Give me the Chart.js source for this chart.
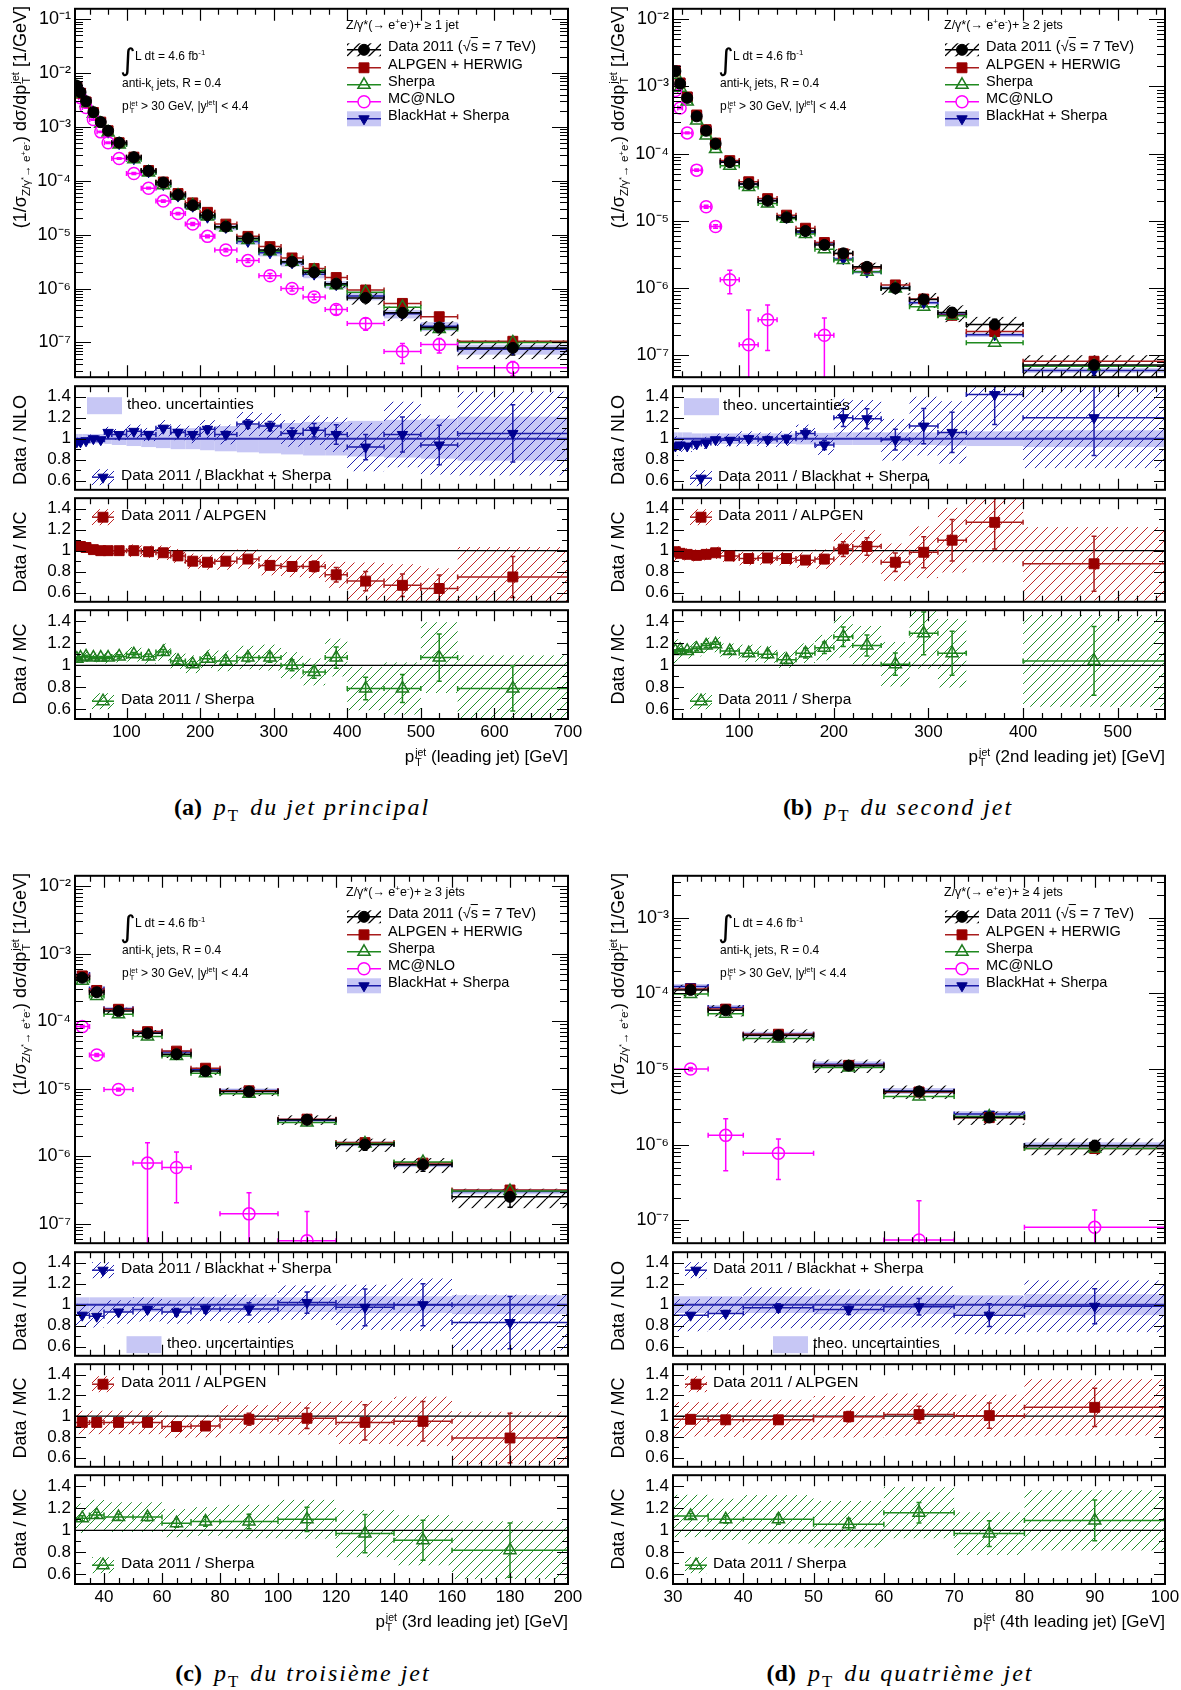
<!DOCTYPE html>
<html>
<head>
<meta charset="utf-8">
<title>pT des jets - Z/gamma* + jets</title>
<script src="https://cdn.jsdelivr.net/npm/chart.js@4.4.1/dist/chart.umd.min.js"></script>
<style>
  html,body{margin:0;padding:0;background:#fff}
  body{position:relative;width:1181px;height:1690px;overflow:hidden;font-family:"Liberation Sans",Arial,Helvetica,sans-serif;color:#000}
  canvas{position:absolute}
  .t{position:absolute;white-space:nowrap;line-height:1.1}
  .ss{display:inline-block;vertical-align:-0.4em;font-size:0.62em;line-height:0.95;text-align:left;margin-left:1px}
  .ss span{display:block}
  sup,sub{font-size:0.65em;line-height:0}
  .cap{font-family:"Liberation Serif","Times New Roman",serif}
  .cap i{letter-spacing:2px}
</style>
</head>
<body>
<script>
// ---------- (a) leading jet ----------
const edgesA = [30,35,40,50,60,70,80,100,120,140,160,180,200,220,250,280,310,340,370,400,450,500,550,700];
const dataA = [5.8e-3,4.4e-3,3.0e-3,1.88e-3,1.23e-3,8.5e-4,5.1e-4,2.75e-4,1.53e-4,9.3e-5,5.5e-5,3.5e-5,2.3e-5,1.41e-5,8.6e-6,5.2e-6,3.15e-6,2.0e-6,1.23e-6,6.7e-7,3.55e-7,1.9e-7,7.9e-8];
const statA = [0.01,0.01,0.01,0.01,0.01,0.01,0.015,0.015,0.02,0.02,0.025,0.025,0.03,0.03,0.035,0.04,0.05,0.06,0.09,0.13,0.16,0.2,0.26];
const sysA = [0.04,0.04,0.04,0.04,0.04,0.05,0.05,0.06,0.06,0.07,0.07,0.08,0.08,0.09,0.1,0.11,0.12,0.13,0.16,0.25,0.3,0.3,0.38];
const alpA = [5.58e-3,4.23e-3,2.91e-3,1.86e-3,1.23e-3,8.5e-4,5.1e-4,2.75e-4,1.55e-4,9.5e-5,5.8e-5,3.9e-5,2.6e-5,1.57e-5,9.3e-6,6.0e-6,3.7e-6,2.35e-6,1.6e-6,9.4e-7,5.3e-7,3.0e-7,1.05e-7];
const shpA = [5.47e-3,4.11e-3,2.78e-3,1.76e-3,1.15e-3,7.9e-4,4.7e-4,2.5e-4,1.42e-4,8.3e-5,5.3e-5,3.47e-5,2.17e-5,1.36e-5,8.0e-6,4.9e-6,3.15e-6,2.13e-6,1.15e-6,8.5e-7,4.5e-7,1.78e-7,1.0e-7];
const bhA = [5.98e-3,4.54e-3,3.06e-3,1.88e-3,1.24e-3,8.0e-4,4.9e-4,2.57e-4,1.47e-4,8.5e-5,5.2e-5,3.37e-5,2.11e-5,1.36e-5,7.5e-6,4.6e-6,3.0e-6,1.85e-6,1.18e-6,7.3e-7,3.4e-7,2.0e-7,7.5e-8];
const theoA = [0.045,0.045,0.045,0.045,0.045,0.05,0.06,0.07,0.08,0.09,0.1,0.1,0.11,0.12,0.13,0.14,0.15,0.16,0.16,0.17,0.18,0.19,0.21];
const mcnA = [5.0e-3,3.5e-3,2.3e-3,1.37e-3,8.1e-4,5.1e-4,2.6e-4,1.37e-4,7.3e-5,4.2e-5,2.47e-5,1.58e-5,9.3e-6,5.2e-6,3.3e-6,1.73e-6,1.0e-6,7.0e-7,4.1e-7,2.24e-7,6.8e-8,9.1e-8,3.4e-8];
const mcnErrA = [0.03,0.03,0.03,0.03,0.03,0.03,0.03,0.04,0.04,0.05,0.05,0.06,0.06,0.07,0.08,0.1,0.1,0.12,0.2,0.25,0.4,0.3,0.3];
const rNloA = [0.97,0.97,0.98,1.0,0.99,1.06,1.04,1.07,1.04,1.10,1.06,1.04,1.09,1.04,1.14,1.12,1.05,1.08,1.04,0.92,1.04,0.94,1.05];
const rAlpA = [1.04,1.04,1.03,1.01,1.0,1.0,1.0,1.0,0.99,0.98,0.95,0.90,0.89,0.90,0.92,0.86,0.85,0.85,0.77,0.71,0.67,0.64,0.75];
const rShpA = [1.06,1.07,1.08,1.07,1.07,1.07,1.08,1.10,1.08,1.12,1.04,1.01,1.06,1.04,1.07,1.07,1.0,0.94,1.07,0.79,0.79,1.07,0.79];

// ---------- (b) 2nd leading jet ----------
const edgesB = [30,35,40,50,60,70,80,100,120,140,160,180,200,220,250,280,310,340,400,550];
const dataB = [1.69e-3,1.1e-3,6.76e-4,3.6e-4,2.2e-4,1.41e-4,7.5e-5,3.55e-5,2.0e-5,1.13e-5,7.1e-6,4.4e-6,3.3e-6,2.08e-6,1.0e-6,6.8e-7,4.35e-7,2.88e-7,7.2e-8];
const statB = [0.01,0.01,0.01,0.015,0.015,0.02,0.02,0.025,0.03,0.035,0.04,0.045,0.07,0.08,0.1,0.15,0.18,0.2,0.3];
const sysB = [0.1,0.07,0.06,0.06,0.06,0.06,0.06,0.07,0.07,0.07,0.08,0.1,0.15,0.15,0.2,0.25,0.28,0.3,0.4];
const alpB = [1.71e-3,1.13e-3,7.0e-4,3.77e-4,2.28e-4,1.44e-4,7.9e-5,3.83e-5,2.15e-5,1.22e-5,7.8e-6,4.78e-6,3.25e-6,2.0e-6,1.12e-6,6.9e-7,3.95e-7,2.27e-7,8.2e-8];
const shpB = [1.5e-3,9.6e-4,6.0e-4,3.13e-4,1.86e-4,1.18e-4,6.6e-5,3.2e-5,1.82e-5,1.08e-5,6.4e-6,3.8e-6,2.62e-6,1.76e-6,9.9e-7,5.3e-7,3.9e-7,1.55e-7,6.9e-8];
const bhB = [1.82e-3,1.17e-3,7.3e-4,3.8e-4,2.29e-4,1.42e-4,7.6e-5,3.55e-5,2.02e-5,1.13e-5,6.8e-6,4.7e-6,2.73e-6,1.75e-6,1.01e-6,6.1e-7,4.1e-7,2.03e-7,6.0e-8];
const theoB = [0.06,0.06,0.06,0.05,0.05,0.05,0.05,0.05,0.05,0.05,0.055,0.055,0.06,0.06,0.06,0.06,0.065,0.07,0.08];
const mcnB = [8.7e-4,4.8e-4,2.04e-4,5.7e-5,1.63e-5,8.3e-6,1.34e-6,1.44e-7,3.4e-7,null,null,2.0e-7,null,null,null,null,null,null,null];
const mcnErrB = [0.03,0.03,0.03,0.04,0.05,0.06,0.38,2.3,0.65,0,0,0.8,0,0,0,0,0,0,0];
const rNloB = [0.93,0.94,0.93,0.95,0.96,0.99,0.985,1.0,0.99,1.0,1.05,0.94,1.2,1.19,0.99,1.12,1.06,1.42,1.2];
const rAlpB = [0.99,0.975,0.965,0.955,0.965,0.98,0.95,0.925,0.93,0.925,0.91,0.92,1.015,1.04,0.89,0.985,1.10,1.27,0.875];
const rShpB = [1.13,1.14,1.13,1.15,1.18,1.19,1.13,1.11,1.10,1.05,1.11,1.16,1.26,1.18,1.01,1.29,1.11,null,1.04];

// ---------- (c) 3rd leading jet ----------
const edgesC = [30,35,40,50,60,70,80,100,120,140,160,200];
const dataC = [4.4e-4,2.68e-4,1.41e-4,6.6e-5,3.24e-5,1.82e-5,9.05e-6,3.47e-6,1.49e-6,7.5e-7,2.5e-7];
const statC = [0.02,0.02,0.025,0.03,0.035,0.04,0.06,0.1,0.18,0.2,0.3];
const sysC = [0.12,0.12,0.12,0.12,0.12,0.12,0.14,0.16,0.22,0.25,0.32];
const alpC = [4.68e-4,2.85e-4,1.5e-4,7.0e-5,3.6e-5,2.01e-5,9.3e-6,3.54e-6,1.59e-6,7.9e-7,3.16e-7];
const shpC = [3.96e-4,2.35e-4,1.26e-4,5.9e-5,3.04e-5,1.69e-5,8.4e-6,3.15e-6,1.54e-6,8.2e-7,3.05e-7];
const bhC = [4.9e-4,3.0e-4,1.52e-4,6.9e-5,3.5e-5,1.9e-5,9.4e-6,3.4e-6,1.53e-6,7.5e-7,3.0e-7];
const theoC = [0.07,0.07,0.07,0.07,0.07,0.07,0.07,0.07,0.08,0.08,0.09];
const mcnC = [8.3e-5,3.16e-5,9.7e-6,7.9e-7,6.8e-7,null,1.4e-7,5.6e-8,null,null,null];
const mcnErrC = [0.05,0.05,0.05,1.0,0.7,0,1.05,1.7,0,0,0];
const rNloC = [0.90,0.89,0.93,0.955,0.93,0.96,0.96,1.02,0.975,1.0,0.83];
const rAlpC = [0.94,0.94,0.94,0.94,0.90,0.905,0.97,0.98,0.94,0.95,0.79];
const rShpC = [1.11,1.14,1.12,1.12,1.065,1.08,1.08,1.10,0.97,0.91,0.82];

// ---------- (d) 4th leading jet ----------
const edgesD = [30,35,40,50,60,70,80,100];
const dataD = [1.11e-4,5.98e-5,2.79e-5,1.11e-5,5.05e-6,2.29e-6,9.7e-7];
const statD = [0.02,0.03,0.04,0.05,0.08,0.12,0.17];
const sysD = [0.17,0.17,0.2,0.2,0.2,0.2,0.25];
const alpD = [1.14e-4,6.2e-5,2.89e-5,1.12e-5,4.98e-6,2.28e-6,8.9e-7];
const shpD = [9.8e-5,5.4e-5,2.54e-5,1.05e-5,4.35e-6,2.36e-6,8.9e-7];
const bhD = [1.23e-4,6.5e-5,2.88e-5,1.16e-5,5.15e-6,2.54e-6,9.8e-7];
const theoD = [0.08,0.08,0.08,0.09,0.09,0.09,0.1];
const mcnD = [1.0e-5,1.33e-6,7.7e-7,null,5.5e-8,null,8.1e-8];
const mcnErrD = [0.05,0.66,0.55,0,2.3,0,0.7];
const rNloD = [0.90,0.917,0.97,0.955,0.98,0.90,0.985];
const rAlpD = [0.97,0.965,0.965,0.995,1.015,1.005,1.085];
const rShpD = [1.13,1.10,1.10,1.055,1.16,0.97,1.09];

const ratioTicks = [0.6, 0.8, 1, 1.2, 1.4];
const ratioMinor = [0.7, 0.9, 1.1, 1.3];

// ---------- layout ----------
const FONT = '"Liberation Sans", Arial, Helvetica, sans-serif';
const steps = (a, b, s, skip) => {
  const r = [];
  for (let v = a; v <= b + 1e-9; v += s) {
    if (!skip || Math.abs(v / skip - Math.round(v / skip)) > 1e-6) r.push(+v.toFixed(6));
  }
  return r;
};
const PA = {L: 75, R: 568, rows: [6, 384, 496, 608, 719], x: [30, 700], xMajor: steps(100, 700, 100), xMinor: steps(50, 675, 25, 100), y: [2.26e-8, 0.156]};
const PB = {L: 673, R: 1165, rows: [6, 384, 496, 608, 719], x: [30, 550], xMajor: steps(100, 500, 100), xMinor: steps(40, 540, 20, 100), y: [4.75e-8, 0.0143]};
const PC = {L: 75, R: 568, rows: [873, 1250, 1362, 1473, 1584], x: [30, 200], xMajor: steps(40, 200, 20), xMinor: steps(35, 195, 5, 20), y: [5.15e-8, 0.0142]};
const PD = {L: 673, R: 1165, rows: [873, 1250, 1362, 1473, 1584], x: [30, 100], xMajor: steps(30, 100, 10), xMinor: steps(32, 98, 2, 10), y: [5.0e-8, 3.58e-3]};

const C = {band: '#c7c7f5', hB: '#2323b0', hR: '#c02828', hG: '#22902a'};
const ST = {
  data: {line: '#000', ps: 'circle', r: 5.5, fill: '#000', stroke: '#000', bw: 1},
  alp: {line: '#a81c1c', ps: 'rect', r: 7, fill: '#990000', stroke: '#990000', bw: 1},
  shp: {line: '#1f8a1f', ps: 'triangle', r: 7, fill: 'rgba(255,255,255,0)', stroke: '#1f7a1f', bw: 1.5},
  mcn: {line: '#ff00ff', ps: 'circle', r: 6, fill: 'rgba(255,255,255,0)', stroke: '#ff00ff', bw: 1.5},
  bh: {line: '#1c1ca8', ps: 'down', r: 6, fill: '#00008b', stroke: '#00008b', bw: 1},
};

const SUPD = {'-': '⁻', '0': '⁰', '1': '¹', '2': '²', '3': '³', '4': '⁴', '5': '⁵', '6': '⁶', '7': '⁷', '8': '⁸', '9': '⁹'};
const pow10 = v => '10' + String(Math.round(Math.log10(v))).split('').map(c => SUPD[c]).join('');
const rFmt = v => (Math.abs(v - 1) < 1e-9 ? '1' : v.toFixed(1));
const centers = e => e.slice(0, -1).map((v, i) => (v + e[i + 1]) / 2);

function logTicks(min, max) {
  const maj = [], mnr = [];
  for (let e = Math.floor(Math.log10(min)); e <= Math.ceil(Math.log10(max)); e++) {
    const b = Math.pow(10, e);
    if (b >= min && b <= max) maj.push(b);
    for (let k = 2; k < 10; k++) if (k * b >= min && k * b <= max) mnr.push(k * b);
  }
  return [maj, mnr];
}

function hatch(ctx, color, gap, lw) {
  const c = document.createElement('canvas');
  c.width = gap; c.height = gap;
  const g = c.getContext('2d');
  g.strokeStyle = color; g.lineWidth = lw;
  g.beginPath();
  for (const o of [-gap, 0, gap]) { g.moveTo(o, gap); g.lineTo(o + gap, 0); }
  g.stroke();
  return ctx.createPattern(c, 'repeat');
}

function marker(ctx, s, x, y, r, fill, stroke, lw) {
  ctx.beginPath();
  if (s === 'circle') ctx.arc(x, y, r, 0, Math.PI * 2);
  else if (s === 'rect') { const h = r * Math.SQRT1_2; ctx.rect(x - h, y - h, 2 * h, 2 * h); }
  else {
    const d = s === 'down' ? -1 : 1;
    ctx.moveTo(x, y - d * r); ctx.lineTo(x + r * 0.866, y + d * r / 2); ctx.lineTo(x - r * 0.866, y + d * r / 2); ctx.closePath();
  }
  if (fill) { ctx.fillStyle = fill; ctx.fill(); }
  if (stroke) { ctx.strokeStyle = stroke; ctx.lineWidth = lw || 1.5; ctx.stroke(); }
}

function glyph(ctx, g, ox, oy) {
  const x = ox + g.x, y = oy + g.y, w = g.w || 34, h = g.h || 14;
  if (g.band) { ctx.fillStyle = g.band; ctx.fillRect(x - w / 2, y - h / 2, w, h); }
  if (g.hatch) { ctx.fillStyle = hatch(ctx, g.hatch, g.gap || 10, g.lw || 1); ctx.fillRect(x - w / 2, y - h / 2, w, h); }
  if (g.line) {
    ctx.strokeStyle = g.line; ctx.lineWidth = 1.5;
    ctx.beginPath(); ctx.moveTo(x - w / 2, y); ctx.lineTo(x + w / 2, y); ctx.stroke();
  }
  if (g.ps) marker(ctx, g.ps, x, y, g.r, g.ps === 'circle' && g.fill.startsWith('rgba') ? '#fff' : g.fill, g.stroke, g.bw);
}

function series(edges, vals, rel, st, order) {
  const c = centers(edges);
  return {
    data: vals.map((v, i) => ({x: c[i], y: v})),
    edges,
    lo: rel ? vals.map((v, i) => (v == null ? null : v * (1 - rel[i]))) : null,
    hi: rel ? vals.map((v, i) => (v == null ? null : v * (1 + rel[i]))) : null,
    barColor: st.line, barWidth: 1.5,
    pointStyle: st.ps === 'down' ? 'triangle' : st.ps,
    pointRotation: st.ps === 'down' ? 180 : 0,
    pointRadius: st.r, pointHoverRadius: st.r,
    pointBackgroundColor: st.fill, pointBorderColor: st.stroke, pointBorderWidth: st.bw,
    order, clip: 0
  };
}

function band(edges, c, rel, f) {
  const lo = [], hi = [];
  for (let i = 0; i < edges.length - 1; i++) {
    const v = typeof c === 'number' ? c : c[i];
    lo.push(v == null ? null : v * (1 - rel[i]));
    hi.push(v == null ? null : v * (1 + rel[i]));
  }
  return Object.assign({edges, lo, hi}, f);
}

const extra = new Map();
const hep = {
  id: 'hep',
  beforeDatasetsDraw(chart) {
    const o = extra.get(chart.canvas);
    const {ctx, chartArea: a} = chart, x = chart.scales.x, y = chart.scales.y;
    const floor = o.log ? o.yMin / 50 : o.yMin - 1;
    const py = v => y.getPixelForValue(Math.max(v, floor));
    ctx.save();
    ctx.beginPath(); ctx.rect(a.left, a.top, a.width, a.height); ctx.clip();
    (o.boxes || []).forEach(b => {
      ctx.fillStyle = b.hatch ? hatch(ctx, b.hatch, b.gap || 10, b.lw || 1) : b.fill;
      b.lo.forEach((lo, i) => {
        if (lo == null) return;
        const x0 = x.getPixelForValue(b.edges[i]), x1 = x.getPixelForValue(b.edges[i + 1]);
        const y0 = py(b.hi[i]), y1 = py(lo);
        ctx.fillRect(x0, y0, x1 - x0, y1 - y0);
      });
    });
    (o.hlines || []).forEach(h => {
      ctx.strokeStyle = h.c; ctx.lineWidth = h.w;
      const p = y.getPixelForValue(h.v);
      ctx.beginPath(); ctx.moveTo(a.left, p); ctx.lineTo(a.right, p); ctx.stroke();
    });
    chart.data.datasets.forEach(ds => {
      ctx.strokeStyle = ds.barColor; ctx.lineWidth = ds.barWidth;
      ctx.beginPath();
      ds.data.forEach((p, i) => {
        if (p.y == null) return;
        const x0 = x.getPixelForValue(ds.edges[i]), x1 = x.getPixelForValue(ds.edges[i + 1]);
        const xc = x.getPixelForValue(p.x), yc = y.getPixelForValue(p.y);
        ctx.moveTo(x0, yc); ctx.lineTo(x1, yc);
        ctx.moveTo(x0, yc - 2.5); ctx.lineTo(x0, yc + 2.5);
        ctx.moveTo(x1, yc - 2.5); ctx.lineTo(x1, yc + 2.5);
        if (ds.lo) {
          const t = py(ds.hi[i]), b = py(ds.lo[i]);
          ctx.moveTo(xc, t); ctx.lineTo(xc, b);
          ctx.moveTo(xc - 2.5, t); ctx.lineTo(xc + 2.5, t);
          ctx.moveTo(xc - 2.5, b); ctx.lineTo(xc + 2.5, b);
        }
      });
      ctx.stroke();
    });
    ctx.restore();
  },
  afterDraw(chart) {
    const o = extra.get(chart.canvas);
    const {ctx, chartArea: a} = chart, x = chart.scales.x, y = chart.scales.y;
    ctx.save();
    ctx.strokeStyle = '#000'; ctx.lineWidth = 1.2;
    ctx.beginPath();
    const tx = (vals, len) => vals.forEach(v => {
      if (v <= o.xMin || v >= o.xMax) return;
      const p = Math.round(x.getPixelForValue(v)) + 0.5;
      ctx.moveTo(p, a.bottom); ctx.lineTo(p, a.bottom - len);
      ctx.moveTo(p, a.top); ctx.lineTo(p, a.top + len);
    });
    const ty = (vals, len) => vals.forEach(v => {
      if (v <= o.yMin || v >= o.yMax) return;
      const p = Math.round(y.getPixelForValue(v)) + 0.5;
      ctx.moveTo(a.left, p); ctx.lineTo(a.left + len, p);
      ctx.moveTo(a.right, p); ctx.lineTo(a.right - len, p);
    });
    tx(o.xMajor, o.xLen[0]); tx(o.xMinor, o.xLen[1]);
    ty(o.yMajor, o.yLen[0]); ty(o.yMinor, o.yLen[1]);
    ctx.stroke();
    ctx.lineWidth = 2;
    ctx.strokeRect(a.left, a.top, a.width, a.height);
    (o.glyphs || []).forEach(g => glyph(ctx, g, a.left, a.top));
    ctx.restore();
  }
};

function makeChart(box, o) {
  const padL = 62, padT = 12, padR = 24, padB = o.bottom ? 4 : 8, xh = o.bottom ? 24 : 0;
  const cw = box.W + padL + padR, ch = box.H + padT + padB + xh;
  const cv = document.createElement('canvas');
  cv.width = cw; cv.height = ch;
  Object.assign(cv.style, {left: (box.L - padL) + 'px', top: (box.T - padT) + 'px', width: cw + 'px', height: ch + 'px'});
  document.body.appendChild(cv);
  extra.set(cv, o);
  return new Chart(cv, {
    type: 'scatter',
    data: {datasets: o.datasets},
    options: {
      responsive: false, animation: false, devicePixelRatio: 1,
      layout: {padding: {left: 0, top: padT, right: padR, bottom: padB}},
      plugins: {legend: {display: false}, tooltip: {enabled: false}},
      scales: {
        x: {
          type: 'linear', min: o.xMin, max: o.xMax, display: !!o.bottom,
          grid: {display: false, drawTicks: false}, border: {display: false},
          afterBuildTicks: s => { s.ticks = o.xMajor.map(v => ({value: v})); },
          afterFit: s => { s.height = xh; },
          ticks: {font: {family: FONT, size: 17}, color: '#000', padding: 3, maxRotation: 0, autoSkip: false, callback: v => String(v)}
        },
        y: {
          type: o.log ? 'logarithmic' : 'linear', min: o.yMin, max: o.yMax,
          grid: {display: false, drawTicks: false}, border: {display: false},
          afterBuildTicks: s => { s.ticks = o.yMajor.map(v => ({value: v})); },
          afterFit: s => { s.width = padL; },
          ticks: {font: {family: FONT, size: o.yFont || 17}, color: '#000', padding: 4, autoSkip: false, callback: o.yFmt}
        }
      }
    },
    plugins: [hep]
  });
}

// ---------- text helpers ----------
const SS = (a, b) => '<span class="ss"><span>' + a + '</span><span>' + b + '</span></span>';
function tx(html, x, y, size, align, cls, css) {
  const d = document.createElement('div');
  d.className = 't' + (cls ? ' ' + cls : '');
  d.innerHTML = html;
  d.style.left = x + 'px'; d.style.top = y + 'px'; d.style.fontSize = size + 'px';
  const h = align === 'r' ? '-100%' : align === 'c' ? '-50%' : '0';
  d.style.transform = 'translate(' + h + ',-50%)';
  if (css) d.style.cssText += css;
  document.body.appendChild(d);
}
function vt(html, x, y, size, end) {
  const d = document.createElement('div');
  d.className = 't';
  d.innerHTML = html;
  d.style.left = x + 'px'; d.style.top = y + 'px'; d.style.fontSize = size + 'px';
  d.style.transformOrigin = '0 0';
  d.style.transform = 'rotate(-90deg) translate(' + (end ? '-100%' : '-50%') + ',-50%)';
  document.body.appendChild(d);
}

// ---------- panel builder ----------
function buildPanel(P, D, X) {
  const L = P.L, W = P.R - P.L, [t0, t1, t2, t3, t4] = P.rows, E = D.edges;
  const xs = {xMin: P.x[0], xMax: P.x[1], xMajor: P.xMajor, xMinor: P.xMinor};
  const [ly, lm] = logTicks(P.y[0], P.y[1]);
  const gx = 289, rows = [41, 59, 76, 93, 110];

  makeChart({L, T: t0, W, H: t1 - t0}, Object.assign({}, xs, {
    xLen: [12, 6], log: true, yMin: P.y[0], yMax: P.y[1], yMajor: ly, yMinor: lm, yLen: [16, 8], yFmt: pow10, yFont: 18,
    boxes: [band(E, D.bh, D.theo, {fill: C.band}), band(E, D.data, D.sys, {hatch: '#000', gap: 13, lw: 1.2})],
    datasets: [series(E, D.bh, null, ST.bh, 4), series(E, D.alp, null, ST.alp, 3), series(E, D.shp, null, ST.shp, 2),
               series(E, D.mcn, D.mcnErr, ST.mcn, 1), series(E, D.data, D.stat, ST.data, 0)],
    glyphs: [
      Object.assign({x: gx, y: rows[0], h: 13, hatch: '#000', gap: 11, lw: 1.3}, ST.data),
      Object.assign({x: gx, y: rows[1]}, ST.alp),
      Object.assign({x: gx, y: rows[2]}, ST.shp),
      Object.assign({x: gx, y: rows[3]}, ST.mcn),
      Object.assign({x: gx, y: rows[4], h: 15, band: C.band}, ST.bh)
    ]
  }));

  const rat = Object.assign({}, xs, {xLen: [11, 6], yMin: 0.513, yMax: 1.5, yMajor: ratioTicks, yMinor: ratioMinor, yLen: [11, 6], yFmt: rFmt});
  const rg = X.rg;
  const rbh = {line: '#1c1ca8', ps: 'down', r: 6, fill: '#000090', stroke: '#000090', bw: 1};
  makeChart({L, T: t1, W, H: t2 - t1}, Object.assign({}, rat, {
    boxes: [band(E, 1, D.theo, {fill: C.band}), band(E, D.rNlo, D.sys, {hatch: C.hB, gap: 10, lw: 1})],
    hlines: [{v: 1, c: '#2b2bb0', w: 2}],
    datasets: [series(E, D.rNlo, D.stat, rbh, 0)],
    glyphs: [
      {x: rg.theoX, y: rg.theoY, w: 35, h: 17, band: C.band},
      Object.assign({x: rg.e, y: rg.nloY, w: 22, h: 16, hatch: C.hB, gap: 8}, rbh)
    ]
  }));
  makeChart({L, T: t2, W, H: t3 - t2}, Object.assign({}, rat, {
    boxes: [band(E, D.rAlp, D.sys, {hatch: C.hR, gap: 10, lw: 1})],
    hlines: [{v: 1, c: '#000', w: 1.2}],
    datasets: [series(E, D.rAlp, D.stat, ST.alp, 0)],
    glyphs: [Object.assign({x: rg.e, y: rg.alpY, w: 22, h: 16, hatch: C.hR, gap: 8}, ST.alp)]
  }));
  makeChart({L, T: t3, W, H: t4 - t3}, Object.assign({}, rat, {
    bottom: true,
    boxes: [band(E, D.rShp, D.sys, {hatch: C.hG, gap: 10, lw: 1})],
    hlines: [{v: 1, c: '#000', w: 1.2}],
    datasets: [series(E, D.rShp, D.stat, ST.shp, 0)],
    glyphs: [Object.assign({x: rg.e, y: rg.shpY, w: 22, h: 16, hatch: C.hG, gap: 8}, ST.shp)]
  }));

  // main plot texts
  tx('Z/γ*(→ e<sup>+</sup>e<sup>-</sup>)+ ≥ ' + X.nj, L + 271, t0 + 20, 12.5);
  const lx = L + 313;
  tx('Data 2011 (√<span style="text-decoration:overline">s</span> = 7 TeV)', lx, t0 + rows[0], 14.5);
  tx('ALPGEN + HERWIG', lx, t0 + rows[1], 14.5);
  tx('Sherpa', lx, t0 + rows[2], 14.5);
  tx('MC@NLO', lx, t0 + rows[3], 14.5);
  tx('BlackHat + Sherpa', lx, t0 + rows[4], 14.5);
  tx('∫', L + 45, t0 + 53, 30, 'l', '', 'font-family:"DejaVu Sans";');
  tx('L dt = 4.6 fb<sup>-1</sup>', L + 60, t0 + 51, 12);
  tx('anti-k<sub>t</sub> jets, R = 0.4', L + 47, t0 + 78, 12);
  tx('p' + SS('jet', 'T') + ' &gt; 30 GeV, |y<sup>jet</sup>| &lt; 4.4', L + 47, t0 + 101, 12);

  // ratio legend texts
  tx('theo. uncertainties', L + rg.theoT, t1 + rg.theoY, 15.5);
  tx('Data 2011 / Blackhat + Sherpa', L + rg.t, t1 + rg.nloY, 15.5);
  tx('Data 2011 / ALPGEN', L + rg.t, t2 + rg.alpY, 15.5);
  tx('Data 2011 / Sherpa', L + rg.t, t3 + rg.shpY, 15.5);

  // axis titles
  vt('(1/σ<sub>Z/γ<sup>*</sup>→ e<sup>+</sup>e<sup>-</sup></sub>) dσ/dp' + SS('jet', 'T') + ' [1/GeV]', L - 54, t0, 18, true);
  vt('Data / NLO', L - 54, (t1 + t2) / 2, 18, false);
  vt('Data / MC', L - 54, (t2 + t3) / 2, 18, false);
  vt('Data / MC', L - 54, (t3 + t4) / 2, 18, false);
  tx('p' + SS('jet', 'T') + ' ' + X.xt + ' [GeV]', P.R, t4 + 38, 17, 'r');

  // caption
  tx('<b>' + X.tag + '</b>&nbsp; <i>p</i><sub style="font-size:0.7em">T</sub>&nbsp; <i>' + X.cap + '</i>', X.cx, X.cy, 24, 'c', 'cap');
}

buildPanel(PA,
  {edges: edgesA, data: dataA, stat: statA, sys: sysA, alp: alpA, shp: shpA, bh: bhA, theo: theoA, mcn: mcnA, mcnErr: mcnErrA, rNlo: rNloA, rAlp: rAlpA, rShp: rShpA},
  {nj: '1 jet', xt: '(leading jet)', tag: '(a)', cap: 'du jet principal', cx: 302, cy: 807,
   rg: {e: 28, t: 46, theoX: 29.5, theoY: 19.5, theoT: 52, nloY: 91, alpY: 19, shpY: 91}});
buildPanel(PB,
  {edges: edgesB, data: dataB, stat: statB, sys: sysB, alp: alpB, shp: shpB, bh: bhB, theo: theoB, mcn: mcnB, mcnErr: mcnErrB, rNlo: rNloB, rAlp: rAlpB, rShp: rShpB},
  {nj: '2 jets', xt: '(2nd leading jet)', tag: '(b)', cap: 'du second jet', cx: 898, cy: 807,
   rg: {e: 28, t: 45, theoX: 28.5, theoY: 20.5, theoT: 50, nloY: 92, alpY: 19, shpY: 91}});
buildPanel(PC,
  {edges: edgesC, data: dataC, stat: statC, sys: sysC, alp: alpC, shp: shpC, bh: bhC, theo: theoC, mcn: mcnC, mcnErr: mcnErrC, rNlo: rNloC, rAlp: rAlpC, rShp: rShpC},
  {nj: '3 jets', xt: '(3rd leading jet)', tag: '(c)', cap: 'du troisième jet', cx: 303, cy: 1673,
   rg: {e: 28, t: 46, theoX: 69, theoY: 92.5, theoT: 92, nloY: 18, alpY: 20, shpY: 90}});
buildPanel(PD,
  {edges: edgesD, data: dataD, stat: statD, sys: sysD, alp: alpD, shp: shpD, bh: bhD, theo: theoD, mcn: mcnD, mcnErr: mcnErrD, rNlo: rNloD, rAlp: rAlpD, rShp: rShpD},
  {nj: '4 jets', xt: '(4th leading jet)', tag: '(d)', cap: 'du quatrième jet', cx: 900, cy: 1673,
   rg: {e: 23, t: 40, theoX: 117.5, theoY: 92.5, theoT: 140, nloY: 18, alpY: 20, shpY: 90}});
</script>
</body>
</html>
